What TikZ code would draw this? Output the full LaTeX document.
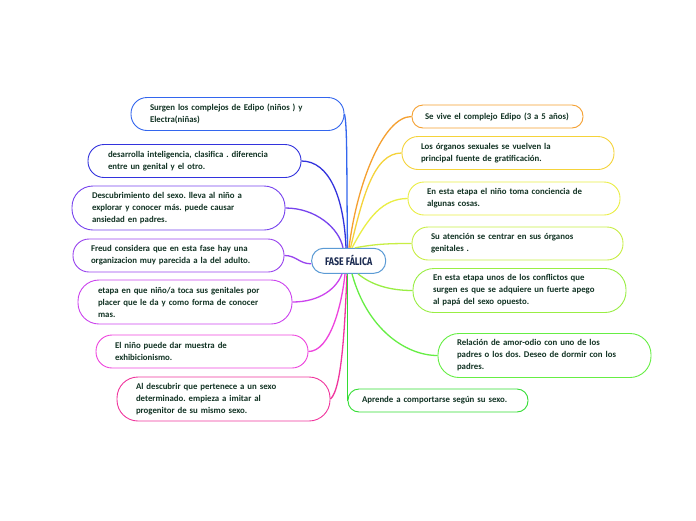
\documentclass[tikz,border=0pt]{standalone}
\usepackage{fontspec}
\setmainfont{Carlito}
\newfontfamily\titlefont{Fira Sans}
\frenchspacing
\definecolor{txt}{HTML}{123324}
\definecolor{cen}{HTML}{5B9BD5}
\definecolor{cenTxt}{HTML}{1A2A50}
\definecolor{cL1}{HTML}{3366EE}
\definecolor{cL2}{HTML}{3333DD}
\definecolor{cL3}{HTML}{7744EE}
\definecolor{cL4}{HTML}{9944EE}
\definecolor{cL5}{HTML}{CC44EE}
\definecolor{cL6}{HTML}{EE44DD}
\definecolor{cL7}{HTML}{F0369E}
\definecolor{cR1}{HTML}{F5A030}
\definecolor{cR2}{HTML}{F5D33A}
\definecolor{cR3}{HTML}{EAEE44}
\definecolor{cR4}{HTML}{C8EE44}
\definecolor{cR5}{HTML}{99EE44}
\definecolor{cR6}{HTML}{66EE44}
\definecolor{cR7}{HTML}{33DD33}
\begin{document}
\begin{tikzpicture}[x=1pt,y=-1pt,
  card/.style={draw, line width=0.9pt, fill=white, align=left,
    font=\bfseries\fontsize{8.8}{12}\selectfont, text=txt, inner ysep=0pt},
  hA/.style={minimum height=23pt, rounded corners=11pt},
  hB/.style={minimum height=33pt, rounded corners=16pt},
  hC/.style={minimum height=44pt, rounded corners=21pt},
  conn/.style={line width=1.3pt}]
\useasboundingbox (0,0) rectangle (696,520);
\fill[white] (0,0) rectangle (696,520);

% central node
\node[draw=cen, line width=1pt, fill=white, rounded corners=12pt,
  minimum width=74pt, minimum height=25pt, inner sep=0pt,
  text=cenTxt, font=\titlefont\bfseries\fontsize{11}{12}\selectfont]
  (cen) at (348.7,260.8) {\scalebox{0.8}[1]{FASE FÁLICA}};

% left nodes
\node[card,hB,draw=cL1,text width=175pt,inner xsep=19pt] (L1) at (237.5,114)
  {Surgen los complejos de Edipo (niños ) y\\Electra(niñas)};
\node[card,hB,draw=cL2,text width=173pt,inner xsep=20pt] (L2) at (194.5,161)
  {desarrolla inteligencia, clasifica . diferencia\\entre un genital y el otro.};
\node[card,hC,draw=cL3,text width=173pt,inner xsep=20pt] (L3) at (178.5,208)
  {Descubrimiento del sexo. lleva al niño a\\explorar y conocer más. puede causar\\ansiedad en padres.};
\node[card,hB,draw=cL4,text width=175pt,inner xsep=18pt] (L4) at (178.5,255.5)
  {Freud  considera que en esta fase hay una\\organizacion muy parecida a la del adulto.};
\node[card,hC,draw=cL5,text width=174pt,inner xsep=20pt] (L5) at (185,302)
  {etapa en que niño/a toca sus genitales por\\placer que le da y como forma de conocer\\mas.};
\node[card,hB,draw=cL6,text width=174pt,inner xsep=19pt] (L6) at (202,351.5)
  {El niño puede dar muestra de\\exhibicionismo.};
\node[card,hC,draw=cL7,text width=175pt,inner xsep=19pt] (L7) at (223.5,399)
  {Al descubrir que pertenece a un sexo\\determinado. empieza a imitar al\\progenitor de su mismo sexo.};

% right nodes
\node[card,hA,draw=cR1,text width=145pt,inner xsep=13pt] (R1) at (497.5,116.5)
  {Se vive el complejo Edipo (3 a 5 años)};
\node[card,hB,draw=cR2,text width=174pt,inner xsep=19pt] (R2) at (508,153)
  {Los órganos sexuales se vuelven la\\principal fuente de gratificación.};
\node[card,hB,draw=cR3,text width=174pt,inner xsep=19pt] (R3) at (514,198.5)
  {En esta etapa el niño toma conciencia de\\algunas cosas.};
\node[card,hB,draw=cR4,text width=173pt,inner xsep=19pt] (R4) at (517.5,243.5)
  {Su atención se  centrar en sus órganos\\genitales .};
\node[card,hC,draw=cR5,text width=173pt,inner xsep=20pt] (R5) at (519.5,290.5)
  {En esta etapa unos de los conflictos que\\surgen es que se adquiere un fuerte apego\\al papá del sexo opuesto.};
\node[card,hC,draw=cR6,text width=175pt,inner xsep=19pt] (R6) at (544.5,355.5)
  {Relación de amor-odio con uno de los\\padres o los dos. Deseo de dormir con los\\padres.};
\node[card,hA,draw=cR7,text width=152pt,inner xsep=14pt] (R7) at (438,400.5)
  {Aprende a comportarse según su sexo.};

% connectors
\draw[conn,cL1] (L1.east) .. controls +(3,12) and +(-1,-80) .. ([xshift=-1.2pt]cen.north);
\draw[conn,cL2] (L2.east) .. controls +(28,0) and +(-2,-50) .. ([xshift=-2.7pt]cen.north);
\draw[conn,cL3] (L3.east) .. controls +(30,0) and +(-4,-20) .. ([xshift=-5.7pt]cen.north);
\draw[conn,cL4] (L4.east) .. controls +(12,0) and +(-12,0) .. ([yshift=-3pt]cen.west);
\draw[conn,cL5] (L5.east) .. controls +(28,0) and +(-5,14) .. ([xshift=-6.7pt]cen.south);
\draw[conn,cL6] (L6.east) .. controls +(22,0) and +(-3,30) .. ([xshift=-3.7pt]cen.south);
\draw[conn,cL7] (L7.east) .. controls +(12,-10) and +(-2,45) .. ([xshift=-1.7pt]cen.south);

\draw[conn,cR1] ([xshift=0.3pt]cen.north) .. controls +(8,-65) and +(-28,0) .. (R1.west);
\draw[conn,cR2] ([xshift=1.8pt]cen.north) .. controls +(12,-50) and +(-28,0) .. (R2.west);
\draw[conn,cR3] ([xshift=3.3pt]cen.north) .. controls +(16,-30) and +(-25,0) .. (R3.west);
\draw[conn,cR4] ([xshift=6.3pt]cen.north) .. controls +(22,-4) and +(-22,0) .. (R4.west);
\draw[conn,cR5] ([xshift=9.3pt]cen.south) .. controls +(12,10) and +(-25,0) .. (R5.west);
\draw[conn,cR6] ([xshift=3.3pt]cen.south) .. controls +(15,55) and +(-32,0) .. (R6.west);
\draw[conn,cR7] (R7.west |- cen.south) -- (R7.west);
\end{tikzpicture}
\end{document}
